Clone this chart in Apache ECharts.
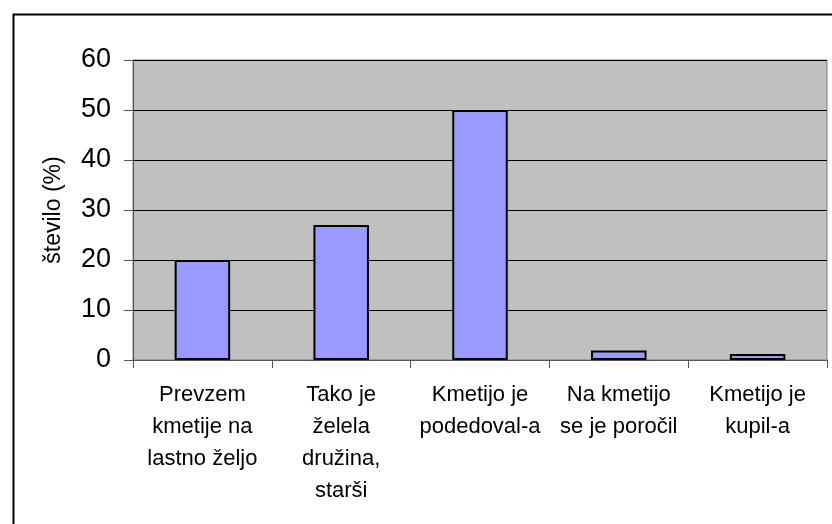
<!DOCTYPE html>
<html>
<head>
<meta charset="utf-8">
<script src="https://cdn.jsdelivr.net/npm/echarts@6/dist/echarts.min.js"></script>
<style>html,body{margin:0;padding:0;background:#fff;}#c{width:832px;height:524px;}</style>
</head>
<body>
<div id="c"></div>
<script>
const categories = [
  "Prevzem\nkmetije na\nlastno željo",
  "Tako je\nželela\ndružina,\nstarši",
  "Kmetijo je\npodedoval-a",
  "Na kmetijo\nse je poročil",
  "Kmetijo je\nkupil-a"
];
const values = [20, 27, 50, 1.9, 1.2];
const yTitle = "število (%)";

const chart = echarts.init(document.getElementById('c'));
chart.setOption({
  animation: false,
  backgroundColor: '#ffffff',
  textStyle: { fontFamily: 'Liberation Sans, Arial, sans-serif' },
  graphic: [{
    type: 'rect', left: 11, top: 12, z: -10,
    shape: { x: 0, y: 0, width: 900, height: 600 },
    style: { fill: 'none', stroke: '#000', lineWidth: 2 }
  }],
  grid: {
    left: 133, top: 60, right: 5, bottom: 164,
    show: true, backgroundColor: '#c0c0c0', borderColor: '#808080', borderWidth: 1
  },
  xAxis: {
    type: 'category', data: categories,
    axisLine: { lineStyle: { color: '#555', width: 1 } },
    axisTick: { show: true, length: 8, alignWithLabel: false, lineStyle: { color: '#555' } },
    axisLabel: { interval: 0, color: '#000', fontSize: 22, lineHeight: 32, margin: 19, fontFamily: 'Liberation Sans, Arial, sans-serif' }
  },
  yAxis: {
    type: 'value', min: 0, max: 60, interval: 10,
    name: yTitle, nameLocation: 'middle', nameGap: 68, nameRotate: 90,
    nameTextStyle: { fontSize: 23, color: '#000', fontFamily: 'Liberation Sans, Arial, sans-serif' },
    axisLine: { show: true, lineStyle: { color: '#555', width: 1 } },
    axisTick: { show: true, length: 9, lineStyle: { color: '#555' } },
    axisLabel: { color: '#000', fontSize: 27, margin: 22, fontFamily: 'Liberation Sans, Arial, sans-serif' },
    splitLine: { show: true, lineStyle: { color: '#000', width: 1 } }
  },
  series: [{
    type: 'bar', data: values, barWidth: '40%',
    itemStyle: { color: '#9999ff', borderColor: '#000', borderWidth: 2 }
  }]
});
</script>
</body>
</html>
